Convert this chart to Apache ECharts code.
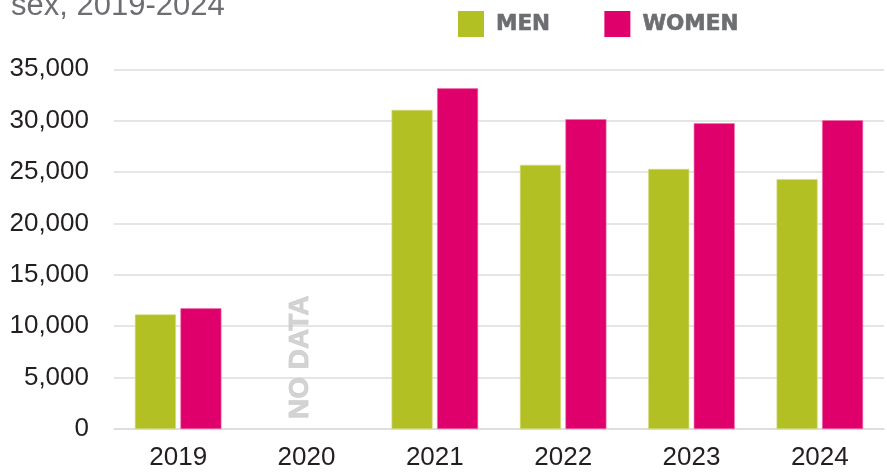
<!DOCTYPE html>
<html><head><meta charset="utf-8">
<script src="https://cdn.jsdelivr.net/npm/echarts@6/dist/echarts.min.js"></script>
<style>html,body{margin:0;padding:0;background:#fff}#c{width:887px;height:473px}</style>
</head><body><div id="c"></div>
<script>
const categories = ['2019','2020','2021','2022','2023','2024'];
const men   = [11150, null, 31050, 25700, 25300, 24300];
const women = [11750, null, 33150, 30150, 29750, 30050];
const yTicks = [0, 5000, 10000, 15000, 20000, 25000, 30000, 35000];
const noDataCategory = '2020';
const titleText = 'sex, 2019-2024';

const FONT = '"Liberation Sans", Arial, sans-serif';
const BOLD = '"DejaVu Sans", sans-serif';
const chart = echarts.init(document.getElementById('c'), null, {renderer:'canvas'});
chart.setOption({
  animation:false,
  backgroundColor:'#fff',
  graphic:[{type:'text', left:11, top:-9, style:{text:titleText, font:'31px ' + FONT, fill:'#6d6e71'}}],
  legend:{
    left:458, top:11, padding:0, itemWidth:26, itemHeight:26, itemGap:54,
    icon:'rect',
    itemStyle:{borderWidth:0},
    data:['MEN','WOMEN'],
    textStyle:{fontFamily:BOLD, fontWeight:'bold', fontSize:21.5, color:'#6d6e71', padding:[0,0,0,7],
      textBorderColor:'#6d6e71', textBorderWidth:0.6}
  },
  grid:{left:114, right:3, top:69.3, bottom:44, containLabel:false},
  xAxis:{
    type:'category', data:categories,
    axisLine:{show:true, lineStyle:{color:'#dcdcdc', width:1.5}},
    axisTick:{show:false},
    axisLabel:{fontFamily:FONT, fontSize:26, color:'#231f20', margin:16}
  },
  yAxis:{
    type:'value', min:yTicks[0], max:yTicks[yTicks.length-1], interval:5000,
    axisLine:{show:false}, axisTick:{show:false},
    splitLine:{lineStyle:{color:'#dcdcdc', width:1.5}},
    axisLabel:{fontFamily:FONT, fontSize:26, color:'#231f20', margin:25,
      formatter:v=>v.toLocaleString('en-US')}
  },
  series:[
    {name:'MEN', type:'bar', data:men, barWidth:41, barGap:'11%',
     itemStyle:{color:'#b3c024', borderColor:'#d3dc80', borderWidth:0.6}},
    {name:'WOMEN', type:'bar', data:women, barWidth:41,
     itemStyle:{color:'#e0006c', borderColor:'#ee6fa8', borderWidth:0.6}},
    {type:'scatter', data:[[noDataCategory, 0]], symbolSize:0, silent:true,
     label:{show:true, formatter:'NO DATA', rotate:90, position:'inside', align:'left', verticalAlign:'middle',
       offset:[10,-6], fontFamily:FONT, fontWeight:'bold', fontSize:28, color:'#c8c8c8',
       textBorderColor:'#c8c8c8', textBorderWidth:0.8}}
  ]
});
</script></body></html>
